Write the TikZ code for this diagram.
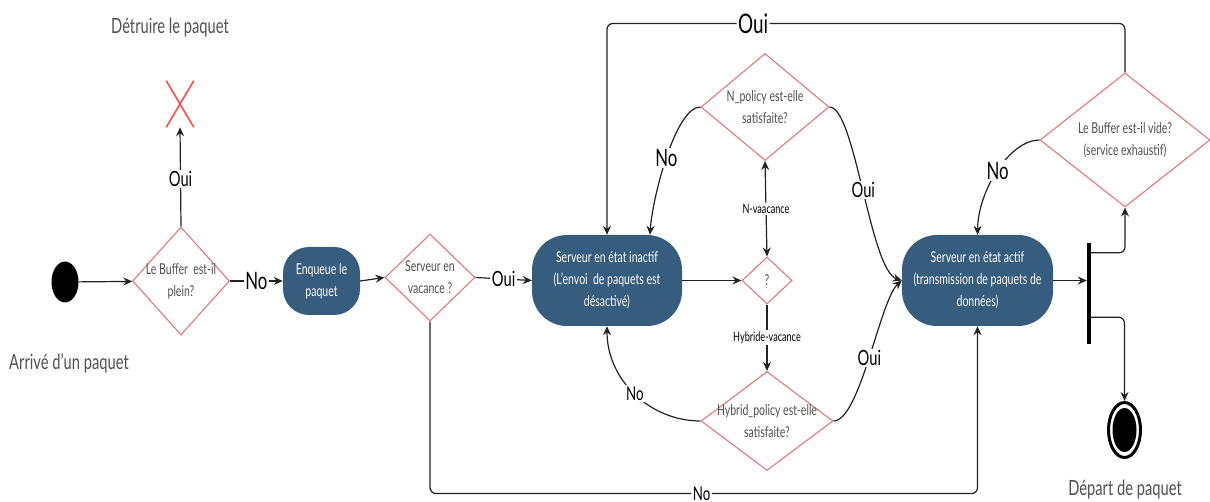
\documentclass[tikz,border=0pt]{standalone}
\usepackage{fontspec}
\setmainfont{Lato}[FakeStretch=0.7]
\usetikzlibrary{shapes.geometric,shapes.misc,arrows.meta,calc}
\definecolor{stfill}{HTML}{365C7E}
\definecolor{dborder}{HTML}{E0787E}
\definecolor{gtext}{HTML}{505050}
\definecolor{lcol}{HTML}{222222}
\definecolor{xred}{HTML}{FF4D4D}
\begin{document}
\begin{tikzpicture}[x=1pt,y=-1pt,
 dec/.style={diamond, draw=dborder, line width=1.1pt, inner sep=0pt, fill=white},
 dtext/.style={text=gtext, align=center, font=\fontsize{15}{22}\selectfont},
 state/.style={rectangle, fill=stfill, text=white, align=center, font=\fontsize{15}{22}\selectfont, inner sep=0pt},
 arr/.style={draw=lcol, line width=1.2pt, -{Stealth[length=9pt,width=8pt,inset=3pt]}},
 arrtwo/.style={draw=lcol, line width=1.2pt, {Stealth[length=9pt,width=8pt,inset=3pt]}-{Stealth[length=9pt,width=8pt,inset=3pt]}},
 lbl/.style={fill=white, inner sep=1.5pt, text=black},
 lblL/.style={lbl, font=\fontsize{24}{24}\selectfont},
 lblM/.style={lbl, font=\fontsize{21}{21}\selectfont},
 lblS/.style={lbl, font=\fontsize{19}{19}\selectfont},
 lblXL/.style={lbl, font=\fontsize{27}{27}\selectfont},
 lbltiny/.style={lbl, font=\fontsize{13}{13}\selectfont},
 title/.style={text=gtext, font=\fontsize{21}{25}\selectfont},
]
\useasboundingbox (0,0) rectangle (1210,502);

% nodes
\node[ellipse, fill=black, minimum width=27pt, minimum height=41pt, inner sep=0pt] (start) at (65,282) {};
\node[title] (arrive) at (69,363) {Arrivé d'un paquet};
\node[dec, minimum width=97pt, minimum height=108pt, label={[dtext]center:{Le Buffer\ \ est-il\\plein?}}] (d1) at (181,281) {};
\node[cross out, draw=xred, line width=1.6pt, minimum width=26pt, minimum height=45pt, inner sep=0pt] (kill) at (180,104) {};
\node[title] (detr) at (170,28) {Détruire le paquet};
\node[state, rounded corners=26pt, minimum width=77pt, minimum height=68pt] (enq) at (321.5,281) {Enqueue le\\paquet};
\node[dec, minimum width=90pt, minimum height=87pt, label={[dtext]center:{Serveur en\\vacance ?}}] (d2) at (430,277.5) {};
\node[state, rounded corners=35pt, minimum width=150pt, minimum height=91pt] (s1) at (607,280.5) {Serveur en état inactif\\(L'envoi\ \ de paquets est\\désactivé)};
\node[dec, minimum width=50pt, minimum height=47pt, label={[dtext]center:{?}}] (q) at (767,280.5) {};
\node[dec, minimum width=128pt, minimum height=107pt, label={[dtext]center:{N\_policy est-elle\\satisfaite?}}] (npol) at (765,107) {};
\node[dec, minimum width=132pt, minimum height=99pt, label={[dtext]center:{Hybrid\_policy est-elle\\satisfaite?}}] (hyb) at (767,421) {};
\node[state, rounded corners=35pt, minimum width=151pt, minimum height=91pt] (s2) at (977.5,280.5) {Serveur en état actif\\(transmission de paquets de\\données)};
\node[rectangle, fill=black, minimum width=4pt, minimum height=101pt, inner sep=0pt] (fork) at (1089,293.5) {};
\node[dec, minimum width=170pt, minimum height=134pt, label={[dtext]center:{Le Buffer est-il vide?\\(service exhaustif)}}] (d3) at (1125,140) {};
\node[ellipse, draw=black, line width=3pt, fill=white, minimum width=32pt, minimum height=55pt, inner sep=0pt] (fin) at (1124.5,430) {};
\node[ellipse, fill=black, minimum width=24pt, minimum height=44pt, inner sep=0pt] (finin) at (fin.center) {};
\node[title] (dep) at (1125,490) {Départ de paquet};

% connectors
\draw[arr] (start) -- (d1);
\draw[arr] (d1.north) -- node[lblM, pos=0.48] {Oui} (kill.south);
\draw[arr] (d1.east) -- node[lblL] {No} (enq.west);
\draw[arr] (enq.east) -- (d2.west);
\draw[arr] (d2.east) -- node[lblM] {Oui} (s1.west);
\draw[arr] (s1.east) -- (q.west);
\draw[arrtwo] (q.north) -- node[lbltiny] {N-vaacance} (npol.south);
\draw[arr] (q.south) -- node[lbltiny] {Hybride-vacance} (hyb.north);
\draw[arr] (npol.west) .. controls (675,107) and (652,200) .. node[lblL] {No} ($(s1.north)+(43,0)$);
\draw[arr] (npol.east) .. controls (855,107) and (870,270) .. node[lblM] {Oui} (s2.west);
\draw[arr] (hyb.east) .. controls (860,421) and (880,300) .. node[lblM] {Oui} (s2.west);
\draw[arr] (hyb.west) .. controls (650,421) and (607,380) .. node[lblS] {No} (s1.south);
\draw[arr] (d3.west) .. controls (1010,140) and (978,190) .. node[lblL] {No} (s2.north);
\draw[arr, rounded corners=6pt] (d3.north) -- ++(0,-49) -| node[lblXL, pos=0.359] {Oui} (s1.north);
\draw[arr] (s2.east) -- (s2.east -| fork.west);
\draw[arr, rounded corners=6pt] ($(fork.north east)+(0,10)$) -| (d3.south);
\draw[arr, rounded corners=6pt] ($(fork.south east)+(0,-27)$) -| (fin.north);
\draw[arr, rounded corners=6pt] (d2.south) -- ++(0,172) -| node[lblS, pos=0.248] {No} (s2.south);
\end{tikzpicture}
\end{document}
